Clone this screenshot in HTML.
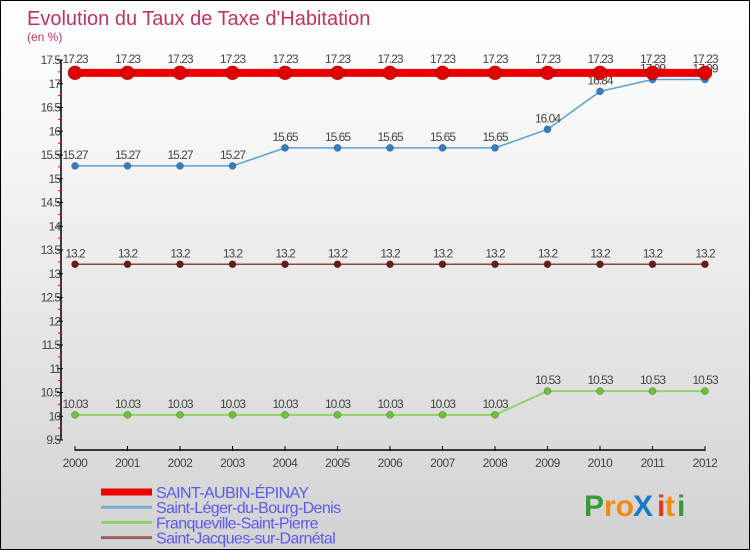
<!DOCTYPE html>
<html><head><meta charset="utf-8"><style>
html,body{margin:0;padding:0}
body{width:750px;height:550px;overflow:hidden;font-family:"Liberation Sans",sans-serif}
#wrap{position:relative;width:748px;height:548px;border:1px solid #000;background:linear-gradient(#ffffff,#f4f4f4 30%,#d2d2d2)}
</style></head><body>
<div id="wrap">
<svg id="chart" width="748" height="548" style="position:absolute;left:0;top:0;font-family:'Liberation Sans',sans-serif">
<text x="26" y="24" font-size="20" fill="#c0335f">Evolution du Taux de Taxe d'Habitation</text>
<text x="26" y="40" font-size="12" fill="#c0335f">(en %)</text>
<g id="axes"></g><g id="series"></g><g id="legend"></g>
<g font-size="30" font-weight="bold">
<text x="583" y="515" fill="#3a9a3a">P</text><text x="603" y="515" fill="#f08a12">ro</text><text x="632" y="515" fill="#1a78c8">X</text><text x="656" y="515" fill="#e83a1a">i</text><text x="664" y="515" fill="#f08a12">t</text><text x="676" y="515" fill="#3a9a3a">i</text>
</g>
</svg>
</div>
<script>
const years=[2000,2001,2002,2003,2004,2005,2006,2007,2008,2009,2010,2011,2012];
const yTicks=[9.5,10,10.5,11,11.5,12,12.5,13,13.5,14,14.5,15,15.5,16,16.5,17,17.5];
const seriesNames=["SAINT-AUBIN-ÉPINAY","Saint-Léger-du-Bourg-Denis","Franqueville-Saint-Pierre","Saint-Jacques-sur-Darnétal"];
const aubin=[17.23,17.23,17.23,17.23,17.23,17.23,17.23,17.23,17.23,17.23,17.23,17.23,17.23];
const leger=[15.27,15.27,15.27,15.27,15.65,15.65,15.65,15.65,15.65,16.04,16.84,17.09,17.09];
const franq=[10.03,10.03,10.03,10.03,10.03,10.03,10.03,10.03,10.03,10.53,10.53,10.53,10.53];
const jacques=[13.2,13.2,13.2,13.2,13.2,13.2,13.2,13.2,13.2,13.2,13.2,13.2,13.2];
const NS="http://www.w3.org/2000/svg";
const X=y=>74+(y-2000)*52.5;
const Y=v=>439-(v-9.5)*47.5;
function mk(tag,attrs,parent,txt){const e=document.createElementNS(NS,tag);for(const k in attrs)e.setAttribute(k,attrs[k]);if(txt!==undefined)e.textContent=txt;parent.appendChild(e);return e;}
const axes=document.getElementById('axes');
let yl=mk('line',{x1:60,x2:60,y1:Y(17.5),y2:Y(9.5),stroke:'#000','stroke-width':1.5},axes);


yTicks.forEach(t=>{
 mk('line',{x1:56,x2:62,y1:Y(t),y2:Y(t),stroke:'#000'},axes);
 let tx=mk('text',{x:59,y:Y(t)+4,'text-anchor':'end','font-size':12,fill:'#444','letter-spacing':'-1'},axes,String(t));
 
 
 if(t<17.5) mk('line',{x1:57,x2:61,y1:Y(t+0.25),y2:Y(t+0.25),stroke:'#e00'},axes);
});
let xl=mk('line',{x1:X(2000),x2:X(2012),y1:449,y2:449,stroke:'#000','stroke-width':1.5},axes);


years.forEach(y=>{
 mk('line',{x1:X(y),x2:X(y),y1:445,y2:450,stroke:'#000'},axes);
 let tx=mk('text',{x:X(y),y:466,'text-anchor':'middle','font-size':12,fill:'#444','letter-spacing':'-0.5'},axes,String(y));
 
 
});
const sg=document.getElementById('series');
function draw(vals,name,lineColor,lw,dotFill,dotR){
 const g=mk('g',{},sg);
 
 
 const pts=vals.map((v,i)=>X(years[i])+','+Y(v)).join(' ');
 mk('polyline',{points:pts,fill:'none',stroke:lineColor,'stroke-width':lw},g);
 vals.forEach((v,i)=>{
  let c=mk('circle',{cx:X(years[i]),cy:Y(v),r:dotR,fill:dotFill,stroke:'rgba(0,0,0,0.3)','stroke-width':0.7},g);
  
  
  let t=mk('text',{x:X(years[i]),y:Y(v)-7-(dotR>5?3:0),'text-anchor':'middle','font-size':12,fill:'#444','letter-spacing':'-1'},g,String(v));
  
  
 });
}
draw(jacques,'saint-jacques','#8b4545',1.5,'#6b1a1a',3.5);
draw(franq,'franqueville','#8fd468',2,'#6cc435',3.5);
draw(leger,'saint-leger','#5a9fd8',1.5,'#2f7fc4',3.5);
draw(aubin,'saint-aubin','#ee0000',8,'#e00000',7);
const lg=document.getElementById('legend');
const lcol=['#ee0000','#7aaed0','#8fd468','#9a6060'];
const lw=[7,3,3,3];
seriesNames.forEach((n,i)=>{
 const y=491+i*15.2;
 let l=mk('line',{x1:100,x2:151,y1:y,y2:y,stroke:lcol[i],'stroke-width':lw[i]},lg);
 
 
 let t=mk('text',{x:155,y:y+6,'font-size':16,fill:'#5a5aee','letter-spacing':'-0.6'},lg,n);
 
 
});
</script>
</body></html>
